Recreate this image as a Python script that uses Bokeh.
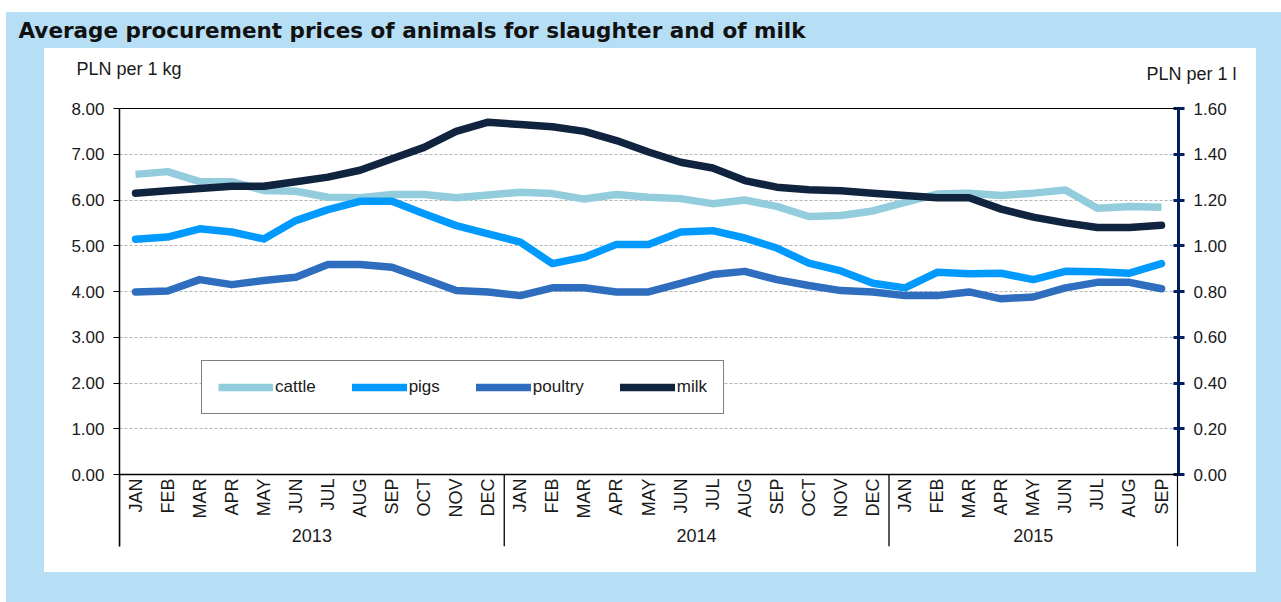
from math import pi
from bokeh.plotting import figure
from bokeh.layouts import column, row
from bokeh.models import (Range1d, LinearAxis, FixedTicker, NumeralTickFormatter, Span,
                          Label, Legend, LegendItem, ColumnDataSource, Spacer)
from bokeh.core.properties import value
from bokeh.embed import file_html
from bokeh.resources import INLINE

# ---------------- data ----------------
title_text = "Average procurement prices of animals for slaughter and of milk"
left_unit = "PLN per 1 kg"
right_unit = "PLN per 1 l"

years = ["2013", "2014", "2015"]
months_per_year = [12, 12, 9]
month_names = ["JAN", "FEB", "MAR", "APR", "MAY", "JUN",
               "JUL", "AUG", "SEP", "OCT", "NOV", "DEC"]
months = [m for n in months_per_year for m in month_names[:n]]

cattle = [6.56, 6.62, 6.40, 6.40, 6.21, 6.19, 6.06, 6.05, 6.12, 6.12, 6.05, 6.11,
          6.17, 6.14, 6.02, 6.12, 6.06, 6.03, 5.92, 6.00, 5.86, 5.64, 5.66, 5.76,
          5.95, 6.13, 6.15, 6.10, 6.15, 6.22, 5.82, 5.86, 5.84]
pigs = [5.14, 5.19, 5.37, 5.30, 5.15, 5.55, 5.79, 5.97, 5.97, 5.70, 5.44, 5.26,
        5.08, 4.61, 4.75, 5.03, 5.03, 5.30, 5.33, 5.17, 4.95, 4.62, 4.45, 4.18,
        4.08, 4.42, 4.39, 4.40, 4.26, 4.44, 4.43, 4.40, 4.61]
poultry = [3.99, 4.01, 4.26, 4.15, 4.24, 4.31, 4.59, 4.59, 4.53, 4.28, 4.02, 3.99,
           3.91, 4.08, 4.08, 3.99, 3.99, 4.18, 4.37, 4.44, 4.26, 4.13, 4.02, 3.99,
           3.91, 3.91, 3.99, 3.84, 3.88, 4.08, 4.20, 4.20, 4.06]
milk = [1.23, 1.24, 1.25, 1.26, 1.26, 1.28, 1.30, 1.33, 1.38, 1.43, 1.50, 1.54,
        1.53, 1.52, 1.50, 1.46, 1.41, 1.365, 1.34, 1.285, 1.256, 1.245, 1.24, 1.23,
        1.22, 1.21, 1.21, 1.16, 1.125, 1.10, 1.08, 1.08, 1.09]

left_ticks = [0, 1, 2, 3, 4, 5, 6, 7, 8]
right_ticks = [0.0, 0.2, 0.4, 0.6, 0.8, 1.0, 1.2, 1.4, 1.6]
series_names = ["cattle", "pigs", "poultry", "milk"]

# ---------------- style ----------------
LIGHT = "#b6def5"
NAVY = "#002060"
TXT = "#1a1a1a"
FONT = "Liberation Sans"
colors = {"cattle": "#93cddd", "pigs": "#009aff", "poultry": "#2f6dbf", "milk": "#10243f"}
caps = {"cattle": "butt", "pigs": "round", "poultry": "round", "milk": "round"}


def blank_fig(w, h, fill):
    f = figure(width=w, height=h, output_backend="svg", toolbar_location=None,
               x_range=Range1d(0, w), y_range=Range1d(h, 0),
               x_axis_type=None, y_axis_type=None, min_border=0,
               border_fill_color=fill, background_fill_color=fill,
               outline_line_color=None)
    f.grid.visible = False
    f.frame_align = False
    return f


# ---------- title strip (on blue) ----------
title_fig = blank_fig(1275, 36, LIGHT)
title_fig.add_layout(Label(x=12, y=18, text=title_text, text_font="DejaVu Sans",
                           text_font_style="bold", text_font_size="21.5px",
                           text_baseline="middle", text_color="#111111"))

# ---------- unit header (on white) ----------
head_fig = blank_fig(1212, 50, "white")
head_fig.add_layout(Label(x=32, y=20, text=left_unit, text_font=FONT, text_font_size="18px",
                          text_baseline="middle", text_color=TXT))
head_fig.add_layout(Label(x=1102, y=25, text=right_unit, text_font=FONT, text_font_size="18px",
                          text_baseline="middle", text_color=TXT))

# ---------- main chart ----------
n = len(months)
x_centers = [i + 0.5 for i in range(n)]
bounds_x = [0]
for k in months_per_year:
    bounds_x.append(bounds_x[-1] + k)
year_centers = [(bounds_x[i] + bounds_x[i + 1]) / 2 for i in range(len(years))]

px_per_unit = 45.75
y_top = left_ticks[-1] + 2 / px_per_unit
y_bot = -72 / px_per_unit
ratio = left_ticks[-1] / right_ticks[-1]

p = figure(width=1212, height=474, output_backend="svg", toolbar_location=None,
           x_range=Range1d(0, n + 0.03), y_range=Range1d(y_bot, y_top),
           x_axis_type=None, min_border_left=75, min_border_right=78,
           min_border_top=8, min_border_bottom=26,
           border_fill_color="white", background_fill_color="white",
           outline_line_color=None)
p.frame_align = False

ax = p.yaxis[0]
ax.ticker = FixedTicker(ticks=left_ticks)
ax.formatter = NumeralTickFormatter(format="0.00")
ax.bounds = (y_bot, left_ticks[-1])
ax.major_tick_in = 0
ax.major_tick_out = 6
ax.minor_tick_line_color = None
ax.axis_line_width = 1.5
ax.axis_line_color = "black"
ax.major_tick_line_color = "black"
ax.major_label_text_font = FONT
ax.major_label_text_font_size = "17px"
ax.major_label_text_color = TXT
ax.major_label_standoff = 9

p.ygrid.ticker = FixedTicker(ticks=left_ticks[1:-1])
p.ygrid.grid_line_color = "#b5b5b5"
p.ygrid.grid_line_dash = "3 2"
p.ygrid.grid_line_width = 1

p.extra_y_ranges = {"milk": Range1d(y_bot / ratio, y_top / ratio)}
ax2 = LinearAxis(y_range_name="milk", ticker=FixedTicker(ticks=right_ticks),
                 formatter=NumeralTickFormatter(format="0.00"),
                 bounds=(right_ticks[0], right_ticks[-1]))
ax2.axis_line_color = NAVY
ax2.axis_line_width = 3
ax2.major_tick_line_color = NAVY
ax2.major_tick_line_width = 3
ax2.major_tick_in = 5
ax2.major_tick_out = 6
ax2.minor_tick_line_color = None
ax2.major_label_text_font = FONT
ax2.major_label_text_font_size = "17px"
ax2.major_label_text_color = TXT
ax2.major_label_standoff = 9
p.add_layout(ax2, "right")

p.add_layout(Span(location=left_ticks[-1], dimension="width", line_color="black", line_width=1.2))
p.add_layout(Span(location=0, dimension="width", line_color="black", line_width=1.6))

p.segment(x0=bounds_x, y0=[0] * len(bounds_x), x1=bounds_x, y1=[y_bot] * len(bounds_x),
          line_color="black", line_width=1.3)

msrc = ColumnDataSource(dict(x=x_centers, y=[0] * n, t=months))
p.text(x="x", y="y", text="t", source=msrc, angle=pi / 2, text_align="right",
       text_baseline="middle", y_offset=4, text_font=value(FONT),
       text_font_size="18px", text_color=TXT)
ysrc = ColumnDataSource(dict(x=year_centers, y=[0] * len(years), t=years))
p.text(x="x", y="y", text="t", source=ysrc, text_align="center",
       text_baseline="middle", y_offset=61, text_font=value(FONT),
       text_font_size="18px", text_color=TXT)

data = {"cattle": cattle, "pigs": pigs, "poultry": poultry, "milk": milk}
renderers = {}
for name in series_names:
    kw = {"y_range_name": "milk"} if name == "milk" else {}
    renderers[name] = p.line(x_centers, data[name], line_color=colors[name], line_width=7.5,
                             line_cap=caps[name], line_join="round", **kw)

legend = Legend(items=[LegendItem(label=nm, renderers=[renderers[nm]]) for nm in series_names],
                orientation="horizontal", location=(82, 132),
                glyph_width=55, glyph_height=16, label_height=16, label_standoff=2,
                spacing=36, padding=16, margin=0,
                label_text_font=FONT, label_text_font_size="17px", label_text_color=TXT,
                border_line_color="black", border_line_width=1,
                background_fill_color="white", background_fill_alpha=1)
p.add_layout(legend)

# ---------- page layout ----------
inner = column(head_fig, p, spacing=0, styles={"background-color": "white"})
layout = column(
    title_fig,
    row(Spacer(width=38, height=524), inner, Spacer(width=25, height=524), spacing=0),
    Spacer(width=1275, height=30),
    spacing=0,
    styles={"background-color": LIGHT},
    margin=(12, 0, 0, 6),
)

open("out.html", "w").write(file_html(layout, INLINE))
